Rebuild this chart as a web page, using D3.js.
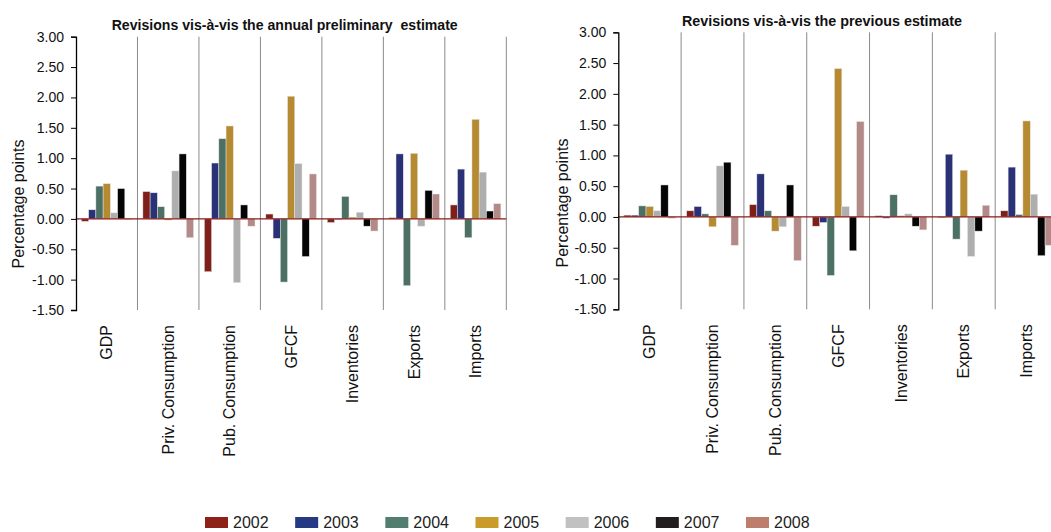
<!DOCTYPE html>
<html>
<head>
<meta charset="utf-8">
<script src="https://cdn.jsdelivr.net/npm/d3@7/dist/d3.min.js"></script>
<style>
  html, body { margin: 0; padding: 0; background: #fff; }
  svg { display: block; font-family: "Liberation Sans", Arial, sans-serif; }
  .title { white-space: pre; }
</style>
</head>
<body>
<svg id="chart" width="1051" height="532"></svg>
<script>
// ---------------- data ----------------
const categories = ["GDP", "Priv. Consumption", "Pub. Consumption", "GFCF", "Inventories", "Exports", "Imports"];
const years = ["2002", "2003", "2004", "2005", "2006", "2007", "2008"];
const yTicks = [-1.5, -1.0, -0.5, 0, 0.5, 1.0, 1.5, 2.0, 2.5, 3.0];

// values per category (rows), per year (columns) — revisions vis-à-vis the annual preliminary estimate
const preliminaryGDP        = [-0.04, 0.15, 0.54, 0.58, 0.10, 0.50, -0.01];
const preliminaryPrivCons   = [0.45, 0.43, 0.20, -0.02, 0.79, 1.07, -0.31];
const preliminaryPubCons    = [-0.87, 0.92, 1.32, 1.53, -1.05, 0.23, -0.12];
const preliminaryGFCF       = [0.08, -0.32, -1.04, 2.02, 0.91, -0.62, 0.74];
const preliminaryInvent     = [-0.06, -0.01, 0.37, 0.03, 0.11, -0.12, -0.20];
const preliminaryExports    = [0.02, 1.07, -1.10, 1.08, -0.12, 0.47, 0.41];
const preliminaryImports    = [0.23, 0.82, -0.31, 1.64, 0.77, 0.13, 0.25];

// revisions vis-à-vis the previous estimate
const previousGDP        = [0.03, 0.03, 0.18, 0.17, 0.10, 0.52, -0.02];
const previousPrivCons   = [0.10, 0.17, 0.05, -0.16, 0.83, 0.89, -0.46];
const previousPubCons    = [0.20, 0.70, 0.10, -0.23, -0.16, 0.52, -0.71];
const previousGFCF       = [-0.15, -0.09, -0.95, 2.41, 0.17, -0.55, 1.55];
const previousInvent     = [0.02, -0.02, 0.36, 0.02, 0.05, -0.15, -0.21];
const previousExports    = [-0.01, 1.02, -0.36, 0.76, -0.64, -0.23, 0.19];
const previousImports    = [0.10, 0.81, 0.04, 1.56, 0.37, -0.63, -0.46];

const barColors    = ["#7f1f1a", "#2a3177", "#4c7064", "#b58a31", "#aeaeae", "#050505", "#b38a87"];
const legendColors = ["#8e2219", "#263a84", "#527e6f", "#c89b2b", "#c1c1c1", "#221e1f", "#bd7e6b"];

const preliminaryRows = [preliminaryGDP, preliminaryPrivCons, preliminaryPubCons, preliminaryGFCF, preliminaryInvent, preliminaryExports, preliminaryImports];
const previousRows    = [previousGDP, previousPrivCons, previousPubCons, previousGFCF, previousInvent, previousExports, previousImports];

// ---------------- drawing ----------------
const svg = d3.select("#chart");
svg.append("rect").attr("width", 1051).attr("height", 532).attr("fill", "#fff");

function drawPanel(cfg) {
  const g = svg.append("g");
  const x0 = d3.scaleBand().domain(categories).range([cfg.left, cfg.right]).padding(0);
  const bw = x0.bandwidth();
  const gap = bw * 0.088;
  const x1 = d3.scaleBand().domain(years).range([gap, bw - gap]).padding(0);
  const y = d3.scaleLinear().domain([-1.5, 3]).range([cfg.bottom, cfg.top]);

  // category separators
  g.selectAll("line.sep").data(categories).join("line")
    .attr("class", "sep")
    .attr("x1", d => x0(d) + bw).attr("x2", d => x0(d) + bw)
    .attr("y1", cfg.top).attr("y2", cfg.bottom)
    .attr("stroke", "#8a8a8a").attr("stroke-width", 1);

  // bars
  const data = [];
  cfg.rows.forEach((row, ci) => row.forEach((v, yi) => data.push({cat: categories[ci], year: years[yi], yi, v})));
  g.selectAll("rect.bar").data(data).join("rect")
    .attr("class", "bar")
    .attr("x", d => x0(d.cat) + x1(d.year))
    .attr("width", x1.bandwidth())
    .attr("y", d => y(Math.max(0, d.v)))
    .attr("height", d => Math.abs(y(d.v) - y(0)))
    .attr("fill", d => barColors[d.yi])
    .attr("stroke", "#e6e6e6").attr("stroke-width", 0.5);

  // zero line
  g.append("line")
    .attr("x1", cfg.left).attr("x2", cfg.right)
    .attr("y1", y(0)).attr("y2", y(0))
    .attr("stroke", "#8b1a1a").attr("stroke-width", 1.2);

  // y axis
  const ax = g.append("g").attr("transform", `translate(${cfg.left},0)`)
    .call(d3.axisLeft(y).tickValues(yTicks).tickFormat(d => d.toFixed(2)).tickSize(5).tickPadding(7));
  ax.select(".domain").attr("stroke", "#000").attr("stroke-width", 1.3);
  ax.selectAll(".tick line").attr("stroke", "#000");
  ax.selectAll(".tick text").attr("font-size", 14).attr("fill", "#111")
    .attr("font-family", "'Liberation Sans', Arial, sans-serif");

  // category labels (rotated)
  g.selectAll("text.cat").data(categories).join("text")
    .attr("class", "cat")
    .attr("transform", d => `translate(${x0(d) + bw / 2},${cfg.bottom + 15}) rotate(-90)`)
    .attr("text-anchor", "end").attr("dy", "0.35em")
    .attr("font-size", 16).attr("fill", "#111")
    .text(d => d);

  // y title
  g.append("text")
    .attr("transform", `translate(${cfg.ytitleX},${cfg.ytitleY}) rotate(-90)`)
    .attr("text-anchor", "middle").attr("dy", "0.35em")
    .attr("font-size", 16).attr("fill", "#111")
    .text("Percentage points");

  // title
  g.append("text")
    .attr("class", "title")
    .attr("x", cfg.titleX).attr("y", cfg.titleY)
    .attr("text-anchor", "middle")
    .attr("font-size", 15.5).attr("font-weight", "bold").attr("fill", "#111")
    .attr("textLength", cfg.titleLen).attr("lengthAdjust", "spacingAndGlyphs")
    .text(cfg.title);
}

drawPanel({
  rows: preliminaryRows, left: 76, right: 506.3, top: 36.7, bottom: 310,
  title: "Revisions vis-à-vis the annual preliminary  estimate",
  titleX: 284.7, titleY: 30, titleLen: 346, ytitleX: 18.5, ytitleY: 204
});
drawPanel({
  rows: previousRows, left: 618.3, right: 1058, top: 32.3, bottom: 309.3,
  title: "Revisions vis-à-vis the previous estimate",
  titleX: 822, titleY: 26, titleLen: 280, ytitleX: 562, ytitleY: 203
});

// legend
const leg = svg.append("g");
const legX = d3.scalePoint().domain(years).range([205, 746]);
const li = leg.selectAll("g").data(years).join("g")
  .attr("transform", d => `translate(${legX(d)},517)`);
li.append("rect").attr("width", 23).attr("height", 11)
  .attr("fill", (d, i) => legendColors[i]);
li.append("text").attr("x", 28).attr("y", 5.5).attr("dy", "0.36em")
  .attr("font-size", 16).attr("fill", "#222").text(d => d);
</script>
</body>
</html>
